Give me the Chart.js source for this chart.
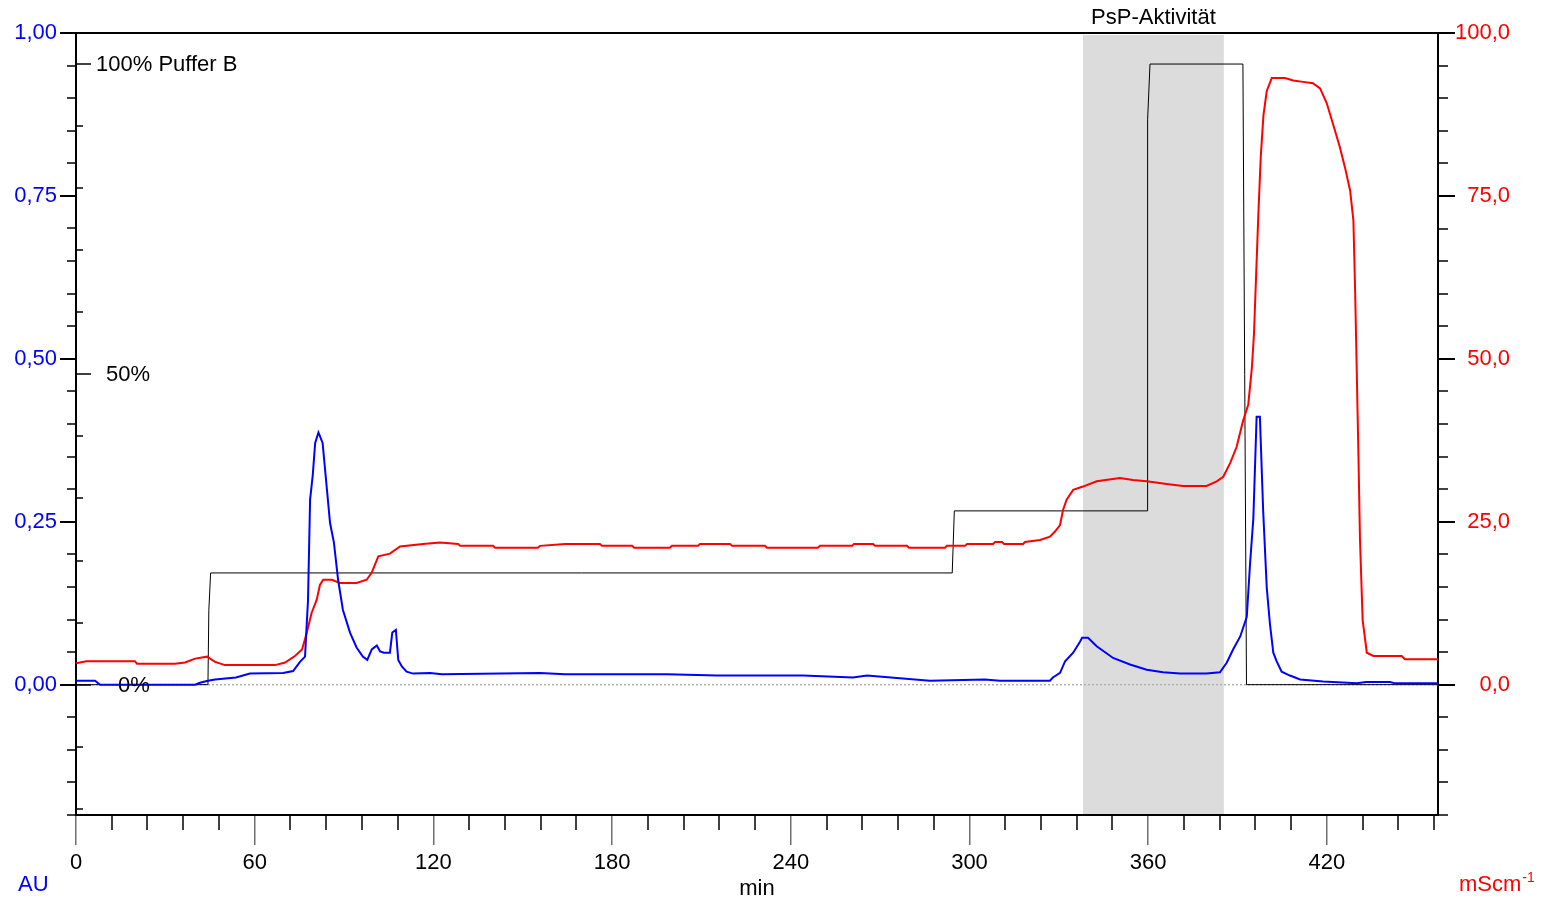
<!DOCTYPE html>
<html>
<head>
<meta charset="utf-8">
<script src="https://cdn.jsdelivr.net/npm/chart.js@4.4.1/dist/chart.umd.min.js"></script>
<style>
  html, body { margin: 0; padding: 0; background: #fff; }
  #wrap { width: 1545px; height: 904px; position: relative; }
</style>
</head>
<body>
<div id="wrap"><canvas id="chromatogram"></canvas></div>
<script>
// UV absorbance trace (AU, left axis)
const uvTime = [0, 6.4, 8.1, 40.0, 41.6, 44.3, 46.7, 53.7, 58.4, 69.5, 72.9, 75.2, 76.9, 77.9, 78.6, 79.5,
  80.3, 81.4, 82.8, 84.2, 85.3, 86.6, 88.0, 89.6, 92.0, 94.2, 96.3, 97.8, 99.3, 101.0, 102.1, 103.4,
  105.4, 106.2, 107.4, 108.2, 109.4, 111.0, 113.2, 118.9, 122.9, 155.8, 164.2, 198.4, 215.2, 244.1,
  260.9, 265.6, 286.7, 305.2, 310.2, 327.0, 328.0, 330.4, 332.1, 334.8, 337.1, 337.8, 339.8, 342.7,
  348.2, 353.9, 359.5, 365.0, 370.7, 379.6, 384.1, 386.4, 388.5, 390.9, 393.1, 394.2, 395.3, 396.4,
  397.5, 398.6, 399.8, 400.9, 402.0, 403.1, 404.8, 407.6, 411.0, 418.7, 430.1, 433.1, 441.2, 442.9, 457.3];
const uvAbs = [0.006, 0.006, 0.000, 0.000, 0.003, 0.006, 0.008, 0.011, 0.017, 0.018, 0.021, 0.035, 0.043, 0.130, 0.284, 0.322,
  0.371, 0.387, 0.371, 0.302, 0.248, 0.218, 0.161, 0.115, 0.080, 0.057, 0.043, 0.038, 0.054, 0.060, 0.051, 0.049,
  0.049, 0.080, 0.084, 0.038, 0.028, 0.020, 0.017, 0.018, 0.016, 0.018, 0.016, 0.016, 0.014, 0.014,
  0.011, 0.014, 0.006, 0.008, 0.006, 0.006, 0.011, 0.018, 0.036, 0.049, 0.066, 0.072, 0.072, 0.059,
  0.041, 0.031, 0.023, 0.019, 0.017, 0.017, 0.019, 0.034, 0.054, 0.074, 0.104, 0.186, 0.255, 0.411,
  0.411, 0.267, 0.149, 0.092, 0.049, 0.036, 0.020, 0.014, 0.008, 0.005, 0.002, 0.004, 0.004, 0.002, 0.002];

// conductivity trace (mS/cm, right axis)
const condTime = [0, 3.4, 19.8, 20.5, 33.2, 36.6, 40.0, 44.0, 46.7, 50.0, 66.8, 70.2, 73.5, 75.9, 77.5, 79.1,
  80.8, 81.9, 83.0, 85.9, 88.6, 94.2, 97.6, 99.3, 101.5, 105.4, 108.8, 116.5, 122.2, 128.3, 129.0, 140.0,
  140.7, 155.1, 155.8, 164.2, 175.9, 176.6, 186.7, 187.4, 199.4, 200.1, 208.8, 209.5, 219.6, 220.3, 231.3,
  232.0, 249.1, 249.8, 260.6, 261.2, 267.6, 268.3, 279.0, 279.7, 291.8, 292.4, 298.5, 299.2, 307.9, 308.6,
  310.9, 311.6, 318.0, 318.6, 323.7, 327.0, 328.7, 330.4, 331.4, 332.6, 334.8, 338.1, 342.7, 350.5, 354.9,
  359.5, 366.2, 371.7, 379.6, 383.0, 385.2, 387.5, 389.7, 391.8, 393.6, 394.8, 395.5, 396.2, 397.0, 397.8,
  398.7, 399.8, 401.5, 405.9, 408.7, 412.0, 415.3, 417.7, 419.9, 422.2, 424.4, 426.1, 427.8, 428.9, 429.5,
  430.0, 430.6, 431.1, 432.0, 433.4, 435.6, 445.1, 446.2, 457.3];
const condValue = [3.3, 3.6, 3.6, 3.2, 3.2, 3.4, 4.0, 4.3, 3.5, 3.0, 3.0, 3.4, 4.4, 5.4, 8.0, 11.0,
  13.0, 15.3, 16.1, 16.1, 15.6, 15.6, 16.1, 17.2, 19.7, 20.1, 21.2, 21.6, 21.8, 21.6, 21.3, 21.3,
  21.0, 21.0, 21.3, 21.6, 21.6, 21.3, 21.3, 21.0, 21.0, 21.3, 21.3, 21.6, 21.6, 21.3, 21.3,
  21.0, 21.0, 21.3, 21.3, 21.6, 21.6, 21.3, 21.3, 21.0, 21.0, 21.3, 21.3, 21.6, 21.6, 21.9,
  21.9, 21.6, 21.6, 21.9, 22.2, 22.7, 23.5, 24.5, 26.8, 28.4, 29.9, 30.4, 31.2, 31.7, 31.4,
  31.2, 30.8, 30.5, 30.5, 31.2, 31.9, 34.0, 36.5, 40.4, 43.0, 48.6, 53.7, 62.4, 72.4, 81.1,
  87.4, 91.1, 93.1, 93.1, 92.7, 92.5, 92.3, 91.5, 89.3, 85.8, 82.4, 79.3, 75.8, 71.2, 59.9,
  48.6, 34.9, 22.4, 9.9, 4.9, 4.4, 4.4, 3.9, 3.9];

// gradient programme (% Puffer B)
const gradTime = [0, 44.3, 44.6, 45.2, 294.2, 294.9, 359.6, 359.8, 360.6, 391.8, 393.0, 457.3];
const gradPercent = [0, 0, 12, 18, 18, 28, 28, 91, 100, 100, 0, 0];

// fraction window with PsP activity (min)
const activityWindow = [338.1, 385.4];

// axes
const timeRange = [0, 457.3];
const xTicks = [0, 60, 120, 180, 240, 300, 360, 420];
const auRange = [-0.2, 1.0];
const auTicks = [0, 0.25, 0.5, 0.75, 1.0];
const condRange = [-20, 100];
const condTicks = [0, 25, 50, 75, 100];
const gradRange = [-21, 105];
const gradLabelValues = [100, 50, 0];
const gradLabelTexts = ['100% Puffer B', '50%', '0%'];

const FONT = '"Liberation Sans", Arial, sans-serif';
const comma = (v, d) => v.toFixed(d).replace('.', ',');
const pts = (xs, ys) => xs.map((x, i) => ({ x: x, y: ys[i] }));

function line(ctx, x1, y1, x2, y2) {
  ctx.beginPath();
  ctx.moveTo(x1, y1);
  ctx.lineTo(x2, y2);
  ctx.stroke();
}

// band, baseline, minor ticks and the extra labels
const decorations = {
  id: 'decorations',
  beforeDatasetsDraw(chart) {
    const { ctx, chartArea: a, scales } = chart;
    const x = scales.x, yL = scales.yL;
    const x0 = x.getPixelForValue(activityWindow[0]);
    const x1 = x.getPixelForValue(activityWindow[1]);
    ctx.save();
    ctx.fillStyle = '#dcdcdc';
    ctx.fillRect(x0, a.top + 2, x1 - x0, a.bottom - a.top - 3);
    ctx.fillStyle = '#000';
    ctx.font = '22px ' + FONT;
    ctx.textAlign = 'center';
    ctx.textBaseline = 'middle';
    ctx.fillText('PsP-Aktivität', (x0 + x1) / 2, 18);

    // zero line
    ctx.strokeStyle = '#b0b0b0';
    ctx.lineWidth = 1.5;
    ctx.setLineDash([2, 2]);
    const y0 = yL.getPixelForValue(0);
    line(ctx, a.left, y0, a.right, y0);
    ctx.restore();
  },
  afterDraw(chart) {
    const { ctx, chartArea: a, scales } = chart;
    const x = scales.x, yL = scales.yL, yR = scales.yR, yG = scales.yG;
    ctx.save();
    ctx.strokeStyle = '#000';

    // frame top
    ctx.lineWidth = 2;
    line(ctx, a.left, a.top, a.right, a.top);

    // minor ticks
    ctx.lineWidth = 1.5;
    for (let v = -0.2; v <= 1.0001; v += 0.05) {
      const py = Math.round(yL.getPixelForValue(v));
      line(ctx, a.left - 9, py, a.left, py);
    }
    for (let v = -20; v <= 100; v += 5) {
      const py = Math.round(yR.getPixelForValue(v));
      line(ctx, a.right, py, a.right + 10, py);
    }
    for (let v = 12; v < timeRange[1]; v += 12) {
      if (v % 60 === 0) continue;
      const px = Math.round(x.getPixelForValue(v));
      line(ctx, px, a.bottom, px, a.bottom + 15);
    }

    // gradient scale inside the left axis
    for (let v = -20; v <= 100; v += 10) {
      const py = Math.round(yG.getPixelForValue(v));
      line(ctx, a.left, py, a.left + (v % 50 === 0 ? 15 : 7), py);
    }

    ctx.fillStyle = '#000';
    ctx.font = '22px ' + FONT;
    ctx.textAlign = 'left';
    ctx.textBaseline = 'middle';
    const offsets = [20, 30, 42];
    gradLabelValues.forEach((v, i) => {
      ctx.fillText(gradLabelTexts[i], a.left + offsets[i], yG.getPixelForValue(v) + 1);
    });

    // units
    ctx.fillStyle = '#0000ff';
    ctx.fillText('AU', 18, 885);
    ctx.fillStyle = '#ff0000';
    ctx.fillText('mScm', 1459, 885);
    const w = ctx.measureText('mScm').width;
    ctx.font = '14px ' + FONT;
    ctx.fillText('-1', 1459 + w + 1, 878);
    ctx.restore();
  }
};

new Chart(document.getElementById('chromatogram'), {
  type: 'line',
  data: {
    datasets: [
      {
        label: 'UV',
        data: pts(uvTime, uvAbs),
        yAxisID: 'yL',
        borderColor: '#0000ff',
        borderWidth: 2,
        pointRadius: 0,
        order: 1
      },
      {
        label: 'Leitfähigkeit',
        data: pts(condTime, condValue),
        yAxisID: 'yR',
        borderColor: '#ff0000',
        borderWidth: 2,
        pointRadius: 0,
        order: 2
      },
      {
        label: 'Puffer B',
        data: pts(gradTime, gradPercent),
        yAxisID: 'yG',
        borderColor: '#000000',
        borderWidth: 1,
        pointRadius: 0,
        order: 3
      }
    ]
  },
  options: {
    responsive: true,
    maintainAspectRatio: false,
    animation: false,
    layout: { padding: { top: 33, left: 0, right: 35, bottom: 0 } },
    plugins: {
      legend: { display: false },
      tooltip: { enabled: false }
    },
    scales: {
      x: {
        type: 'linear',
        position: 'bottom',
        min: timeRange[0],
        max: timeRange[1],
        afterBuildTicks: s => { s.ticks = xTicks.map(v => ({ value: v })); },
        afterFit: s => { s.height = 89; },
        ticks: {
          color: '#000',
          font: { family: FONT, size: 22 },
          padding: 5,
          maxRotation: 0,
          autoSkip: false
        },
        grid: { drawOnChartArea: false, tickLength: 30, color: '#707070', lineWidth: 1.5 },
        border: { display: true, color: '#000', width: 2 },
        title: {
          display: true,
          text: 'min',
          color: '#000',
          font: { family: FONT, size: 22 },
          padding: { top: 0, bottom: 2 }
        }
      },
      yL: {
        type: 'linear',
        position: 'left',
        min: auRange[0],
        max: auRange[1],
        afterBuildTicks: s => { s.ticks = auTicks.map(v => ({ value: v })); },
        afterFit: s => { s.width = 76; },
        ticks: {
          color: '#0000ff',
          font: { family: FONT, size: 22 },
          padding: 3,
          callback: v => comma(v, 2)
        },
        grid: { drawOnChartArea: false, tickLength: 16, color: '#000', lineWidth: 2 },
        border: { display: true, color: '#000', width: 2 }
      },
      yR: {
        type: 'linear',
        position: 'right',
        min: condRange[0],
        max: condRange[1],
        afterBuildTicks: s => { s.ticks = condTicks.map(v => ({ value: v })); },
        afterFit: s => { s.width = 72; },
        ticks: {
          color: '#ff0000',
          font: { family: FONT, size: 22 },
          padding: 3,
          crossAlign: 'far',
          callback: v => comma(v, 1)
        },
        grid: { drawOnChartArea: false, tickLength: 17, color: '#000', lineWidth: 2 },
        border: { display: true, color: '#000', width: 2 }
      },
      yG: {
        type: 'linear',
        display: false,
        min: gradRange[0],
        max: gradRange[1]
      }
    }
  },
  plugins: [decorations]
});
</script>
</body>
</html>
